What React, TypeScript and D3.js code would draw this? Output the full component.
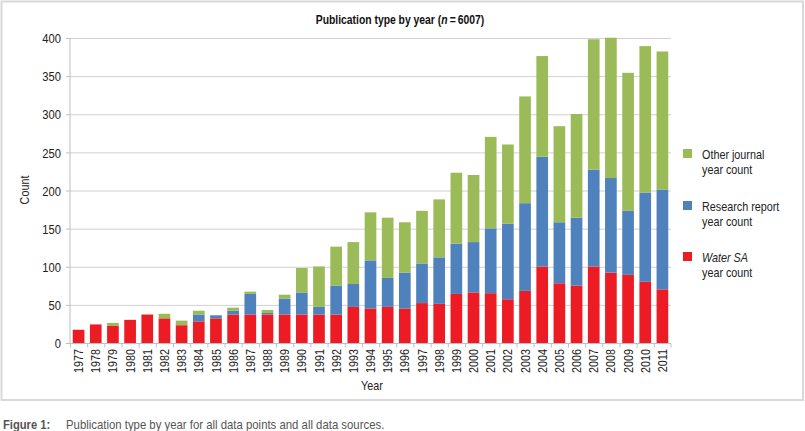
import React, { useEffect } from 'react';
import * as d3 from 'd3';

const years = d3.range(1977, 2012).map(String);
// Water SA counts per year
const waterSA = [18, 25, 23, 31, 38, 33, 24, 29, 33, 38, 38, 38, 38, 38, 38, 38, 48, 46, 48, 46, 53, 52, 65, 67, 66, 58, 69, 101, 79, 76, 101, 93, 90, 81, 71];
// Research report counts per year
const research = [0, 0, 0, 0, 0, 0, 0, 9, 4, 5, 27, 2, 21, 29, 10, 38, 30, 63, 38, 47, 52, 61, 66, 66, 85, 99, 115, 144, 80, 89, 127, 124, 84, 117, 131];
// Other journal counts per year
const other = [0, 0, 4, 0, 0, 6, 6, 5, 0, 4, 3, 4, 5, 32, 53, 51, 55, 63, 79, 66, 69, 76, 93, 88, 120, 104, 140, 132, 126, 136, 171, 184, 181, 192, 181];

const yTicks = [0, 50, 100, 150, 200, 250, 300, 350, 400];

const seriesKeys = ['water', 'research', 'other'];
const colors: Record<string, string> = {
  water: '#ED1C24',
  research: '#4F81BD',
  other: '#9BBB59',
};

const font = "'Liberation Sans', Arial, sans-serif";
const SX = 0.83; // squeeze to mimic the condensed face

const W = 805;
const H = 431;
const left = 70;
const right = 671;
const top = 38.5;
const bottom = 343.5;

// condensed text helper
const NText = ({ x, y, rotate = 0, anchor = 'start', size = 13, fill = '#222', weight = 'normal', children }: any) => (
  <g transform={`translate(${x},${y}) rotate(${rotate}) scale(${SX},1)`}>
    <text textAnchor={anchor} fontSize={size} fill={fill} fontWeight={weight} dy="0.35em">
      {children}
    </text>
  </g>
);

export default function App() {
  useEffect(() => {
    document.body.style.margin = '0';
  }, []);

  const rows = years.map((y, i) => ({
    year: y,
    water: waterSA[i],
    research: research[i],
    other: other[i],
  }));

  const x = d3.scaleBand<string>().domain(years).range([left, right]).paddingInner(0.32).paddingOuter(0.16);
  const y = d3.scaleLinear().domain([0, 400]).range([bottom, top]);
  const stack = d3.stack<any>().keys(seriesKeys)(rows);

  const step = x.step();
  const legend = [
    { key: 'other', lines: ['Other journal', 'year count'], y: 154, italic: false },
    { key: 'research', lines: ['Research report', 'year count'], y: 206, italic: false },
    { key: 'water', lines: ['Water SA', 'year count'], y: 257, italic: true },
  ];

  return (
    <svg width={W} height={H} style={{ display: 'block', fontFamily: font }}>
      <rect x={1.5} y={1.5} width={801.5} height={398.5} fill="#fff" stroke="#d9d9d9" strokeWidth={2} />
      <NText x={400} y={20} anchor="middle" size={12.5} weight="bold" fill="#111">
        Publication type by year (<tspan fontStyle="italic">n</tspan>{'\u2009=\u2009'}6007)
      </NText>

      {yTicks.map(t => (
        <g key={t}>
          {t > 0 && <line x1={left} x2={right} y1={y(t)} y2={y(t)} stroke="#d0d0d0" strokeWidth={1} />}
          <line x1={left - 4} x2={left} y1={y(t)} y2={y(t)} stroke="#bfbfbf" />
          <NText x={61} y={y(t)} anchor="end" size={13.5}>{t}</NText>
        </g>
      ))}

      {stack.map(layer => (
        <g key={layer.key} fill={colors[layer.key]}>
          {layer.map((d, i) => {
            const h = y(d[0]) - y(d[1]);
            if (h <= 0) return null;
            return <rect key={i} x={x(years[i])} y={y(d[1])} width={x.bandwidth()} height={h} />;
          })}
        </g>
      ))}

      <line x1={left} x2={left} y1={top} y2={bottom} stroke="#bfbfbf" />
      <line x1={left} x2={right} y1={bottom} y2={bottom} stroke="#bfbfbf" />
      {years.map((yr, i) => (
        <line key={'t' + yr} x1={left + i * step + 0.5} x2={left + i * step + 0.5} y1={bottom} y2={bottom + 4} stroke="#bfbfbf" />
      ))}
      <line x1={right} x2={right} y1={bottom} y2={bottom + 4} stroke="#bfbfbf" />

      {years.map(yr => {
        const cx = (x(yr) as number) + x.bandwidth() / 2;
        return (
          <NText key={'l' + yr} x={cx} y={349} rotate={-90} anchor="end" size={13}>
            {yr}
          </NText>
        );
      })}

      <NText x={372} y={385} anchor="middle" size={13}>Year</NText>
      <NText x={24} y={190} rotate={-90} anchor="middle" size={13}>Count</NText>

      {legend.map(l => (
        <g key={l.key}>
          <rect x={683} y={l.y - 5} width={9} height={9} fill={colors[l.key]} />
          <NText x={702} y={l.y} size={13}>
            <tspan fontStyle={l.italic ? 'italic' : 'normal'}>{l.lines[0]}</tspan>
          </NText>
          <NText x={702} y={l.y + 15} size={13}>{l.lines[1]}</NText>
        </g>
      ))}

      <NText x={3} y={424} size={13.5} fill="#555" weight="bold">Figure 1:</NText>
      <NText x={66} y={424} size={13.7} fill="#555">Publication type by year for all data points and all data sources.</NText>
    </svg>
  );
}
